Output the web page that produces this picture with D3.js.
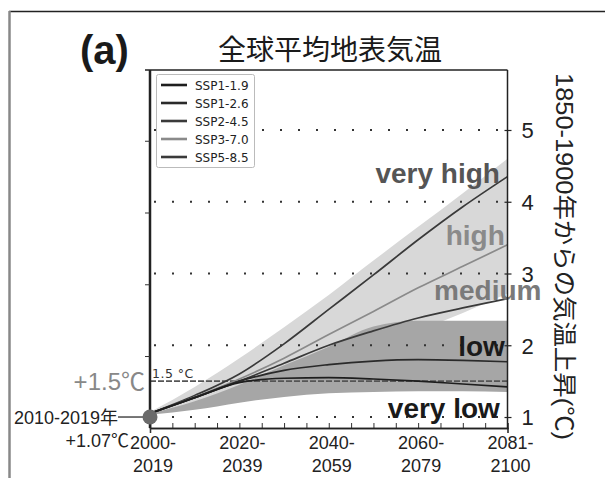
<!DOCTYPE html>
<html><head><meta charset="utf-8">
<script src="https://cdn.jsdelivr.net/npm/d3@7"></script>
<style>html,body{margin:0;padding:0;background:#fff;}svg{display:block;}</style>
</head><body>
<script>
// ---- data ----
const years = [2010, 2020, 2030, 2040, 2050, 2060, 2070, 2080, 2090];
const ssp119 = [1.05, 1.27, 1.48, 1.54, 1.55, 1.53, 1.50, 1.46, 1.42];
const ssp126 = [1.05, 1.27, 1.50, 1.65, 1.73, 1.78, 1.80, 1.79, 1.77];
const ssp245 = [1.05, 1.27, 1.50, 1.75, 2.00, 2.20, 2.38, 2.52, 2.65];
const ssp370 = [1.05, 1.28, 1.53, 1.82, 2.15, 2.47, 2.80, 3.10, 3.40];
const ssp585 = [1.05, 1.30, 1.60, 2.02, 2.50, 2.98, 3.47, 3.93, 4.35];
const lightLow  = [1.05, 1.15, 1.30, 1.50, 1.72, 1.95, 2.20, 2.45, 2.72];
const lightHigh = [1.07, 1.42, 1.82, 2.25, 2.70, 3.18, 3.65, 4.12, 4.60];
const darkLow   = [1.03, 1.10, 1.20, 1.28, 1.33, 1.35, 1.36, 1.36, 1.35];
const darkHigh  = [1.05, 1.22, 1.45, 1.72, 1.98, 2.26, 2.34, 2.34, 2.34];
const seriesNames = ["SSP1-1.9", "SSP1-2.6", "SSP2-4.5", "SSP3-7.0", "SSP5-8.5"];
const seriesValues = [ssp119, ssp126, ssp245, ssp370, ssp585];
const seriesColors = ["#1e1e1e", "#2a2a2a", "#3a3a3a", "#8a8a8a", "#3a3a3a"];
const xTickYears = [2010, 2030, 2050, 2070, 2090];
const xTickLabels = [["2000-", "2019"], ["2020-", "2039"], ["2040-", "2059"], ["2060-", "2079"], ["2081-", "2100"]];
const xMinorYears = d3.range(2015, 2090, 5);
const yTicks = [1, 2, 3, 4, 5];
const yLeftTicks = [1.85, 2.85, 3.85, 4.85];
const levelNames = ["very high", "high", "medium", "low", "very low"];
const levelValues = [4.26, 3.40, 2.63, 1.85, 0.99];
const levelColors = ["#555555", "#8a8a8a", "#7a7a7a", "#1a1a1a", "#1a1a1a"];
const threshold = 1.5;
const recentValue = 1.0;
const title = "全球平均地表気温";
const yTitle = "1850-1900年からの気温上昇(℃)";

// ---- drawing ----
const W = 605, H = 478;
const svg = d3.select("body").append("svg").attr("width", W).attr("height", H);
const x = d3.scaleLinear().domain([2010, 2090]).range([150, 507.5]);
const y = d3.scaleLinear().domain([0.847, 5.836]).range([428, 70]);
const sans = "'Liberation Sans', Arial, 'Noto Sans CJK JP', sans-serif";
const cjk = "'Noto Sans CJK JP', 'Liberation Sans', sans-serif";

// outer frame
svg.append("line").attr("x1", 9).attr("x2", W).attr("y1", 11.5).attr("y2", 11.5).attr("stroke", "#222").attr("stroke-width", 1.5);
svg.append("line").attr("x1", 9.5).attr("x2", 9.5).attr("y1", 11).attr("y2", H).attr("stroke", "#888").attr("stroke-width", 2.5);

svg.append("defs").append("clipPath").attr("id", "plot")
  .append("rect").attr("x", x(2010)).attr("y", y(5.836)).attr("width", x(2090) - x(2010)).attr("height", y(0.847) - y(5.836));
const g = svg.append("g").attr("clip-path", "url(#plot)");

const area = (lo, hi) => d3.area().x((d, i) => x(years[i])).y0((d, i) => y(lo[i])).y1((d, i) => y(hi[i])).curve(d3.curveMonotoneX)(years);
g.append("path").attr("d", area(lightLow, lightHigh)).attr("fill", "#d8d8d8");
g.append("path").attr("d", area(darkLow, darkHigh)).attr("fill", "#a6a6a6");

// dotted gridlines
g.selectAll("line.grid").data(yTicks).join("line").attr("class", "grid")
  .attr("x1", x(2010) + 4).attr("x2", x(2090)).attr("y1", d => y(d)).attr("y2", d => y(d))
  .attr("stroke", "#333").attr("stroke-width", 2).attr("stroke-dasharray", "2,16");
// 1.5 threshold line
g.append("line").attr("x1", x(2010)).attr("x2", x(2090)).attr("y1", y(threshold)).attr("y2", y(threshold))
  .attr("stroke", "#555").attr("stroke-width", 1.6).attr("stroke-dasharray", "6,2");

const line = d3.line().x((d, i) => x(years[i])).y(d => y(d)).curve(d3.curveMonotoneX);
const drawOrder = [4, 3, 2, 1, 0];
drawOrder.forEach(k => {
  g.append("path").attr("d", line(seriesValues[k])).attr("fill", "none")
    .attr("stroke", seriesColors[k]).attr("stroke-width", 1.7);
});

// level labels
const lx = [2088.3, 2089.4, 2097.6, 2089.4, 2088.3];
levelNames.forEach((t, i) => {
  svg.append("text").attr("x", x(lx[i])).attr("y", y(levelValues[i])).attr("text-anchor", "end")
    .attr("font-family", sans).attr("font-weight", "bold").attr("font-size", 28)
    .attr("fill", levelColors[i]).text(t);
});

// frame / axes
const fr = svg.append("g").attr("fill", "none").attr("stroke", "#222");
fr.append("line").attr("x1", 145).attr("x2", x(2090)).attr("y1", 70).attr("y2", 70).attr("stroke-width", 1.5);
fr.append("line").attr("x1", x(2090)).attr("x2", x(2090)).attr("y1", 70).attr("y2", 428).attr("stroke-width", 1.5);

const xa = svg.append("g").attr("transform", "translate(0,428)")
  .call(d3.axisBottom(x).tickValues(xMinorYears).tickSize(-5).tickFormat(""));
const xa2 = svg.append("g").attr("transform", "translate(0,428)")
  .call(d3.axisBottom(x).tickValues([2010]).tickSize(5).tickFormat(""));
[xa, xa2].forEach(a => { a.select(".domain").attr("stroke", "#222").attr("stroke-width", 1.5); a.selectAll(".tick line").attr("stroke", "#333"); });

const ya = svg.append("g").attr("transform", `translate(${x(2010)},0)`)
  .call(d3.axisLeft(y).tickValues(yLeftTicks).tickSize(5).tickFormat(""));
ya.select(".domain").attr("stroke", "#222").attr("stroke-width", 2.5).attr("d", `M0,70V428`);
ya.selectAll(".tick line").attr("stroke", "#333");

const yr = svg.append("g").attr("transform", `translate(${x(2090)},0)`)
  .call(d3.axisRight(y).tickValues(yTicks).tickSize(4).tickPadding(10).tickFormat(d3.format("d")));
yr.select(".domain").remove();
yr.selectAll(".tick line").attr("x1", -3).attr("stroke", "#222").attr("stroke-width", 1.2);
yr.selectAll(".tick text").attr("font-family", sans).attr("font-size", 22).attr("fill", "#222").attr("dy", "0.36em");

// x tick labels
xTickYears.forEach((yr0, i) => {
  const t = svg.append("text").attr("x", x(yr0) + 3).attr("text-anchor", "middle")
    .attr("font-family", sans).attr("font-size", 18).attr("fill", "#222");
  t.append("tspan").attr("x", x(yr0) + 3).attr("y", 449).text(xTickLabels[i][0]);
  t.append("tspan").attr("x", x(yr0) + 3).attr("y", 472).text(xTickLabels[i][1]);
});

// legend
const lg = svg.append("g");
lg.append("rect").attr("x", 156.5).attr("y", 74.5).attr("width", 98).attr("height", 93).attr("rx", 2)
  .attr("fill", "#fff").attr("stroke", "#bbb").attr("stroke-width", 1);
seriesNames.forEach((n, i) => {
  const yy = 85 + i * 18;
  lg.append("line").attr("x1", 161).attr("x2", 187).attr("y1", yy).attr("y2", yy)
    .attr("stroke", seriesColors[i]).attr("stroke-width", 2.6);
  lg.append("text").attr("x", 195).attr("y", yy + 4.5).attr("font-family", "'DejaVu Sans', sans-serif")
    .attr("font-size", 12).attr("fill", "#222").text(n);
});

// annotations
svg.append("text").attr("x", 145).attr("y", y(threshold) + 8.5).attr("text-anchor", "end")
  .attr("font-family", sans).attr("font-size", 24).attr("fill", "#888").text("+" + threshold + "℃");
svg.append("text").attr("x", 152).attr("y", y(threshold) - 3).attr("font-family", "'DejaVu Sans', sans-serif")
  .attr("font-size", 12.5).attr("fill", "#333").attr("letter-spacing", 0.5).text(threshold + " °C");
svg.append("line").attr("x1", 118).attr("x2", x(2010)).attr("y1", y(recentValue)).attr("y2", y(recentValue))
  .attr("stroke", "#555").attr("stroke-width", 1.6);
svg.append("circle").attr("cx", x(2010)).attr("cy", y(recentValue)).attr("r", 7.5).attr("fill", "#6a6a6a");
svg.append("text").attr("x", 118).attr("y", y(recentValue) + 6.5).attr("text-anchor", "end")
  .attr("font-family", sans).attr("font-size", 18).attr("fill", "#222").text("2010-2019年");
svg.append("text").attr("x", 129).attr("y", 447).attr("text-anchor", "end")
  .attr("font-family", sans).attr("font-size", 18).attr("fill", "#222").text("+1.07℃");

// titles
svg.append("text").attr("x", 80).attr("y", 64).attr("font-family", sans).attr("font-weight", "bold")
  .attr("font-size", 40).attr("fill", "#1a1a1a").text("(a)");
svg.append("text").attr("x", 330).attr("y", 60).attr("text-anchor", "middle").attr("font-family", cjk)
  .attr("font-size", 28).attr("fill", "#1a1a1a").text(title);
svg.append("text").attr("transform", "translate(556,256.5) rotate(90)").attr("text-anchor", "middle")
  .attr("font-family", sans).attr("font-size", 24).attr("fill", "#222")
  .attr("textLength", 367).attr("lengthAdjust", "spacingAndGlyphs").text(yTitle);
</script>
</body></html>
